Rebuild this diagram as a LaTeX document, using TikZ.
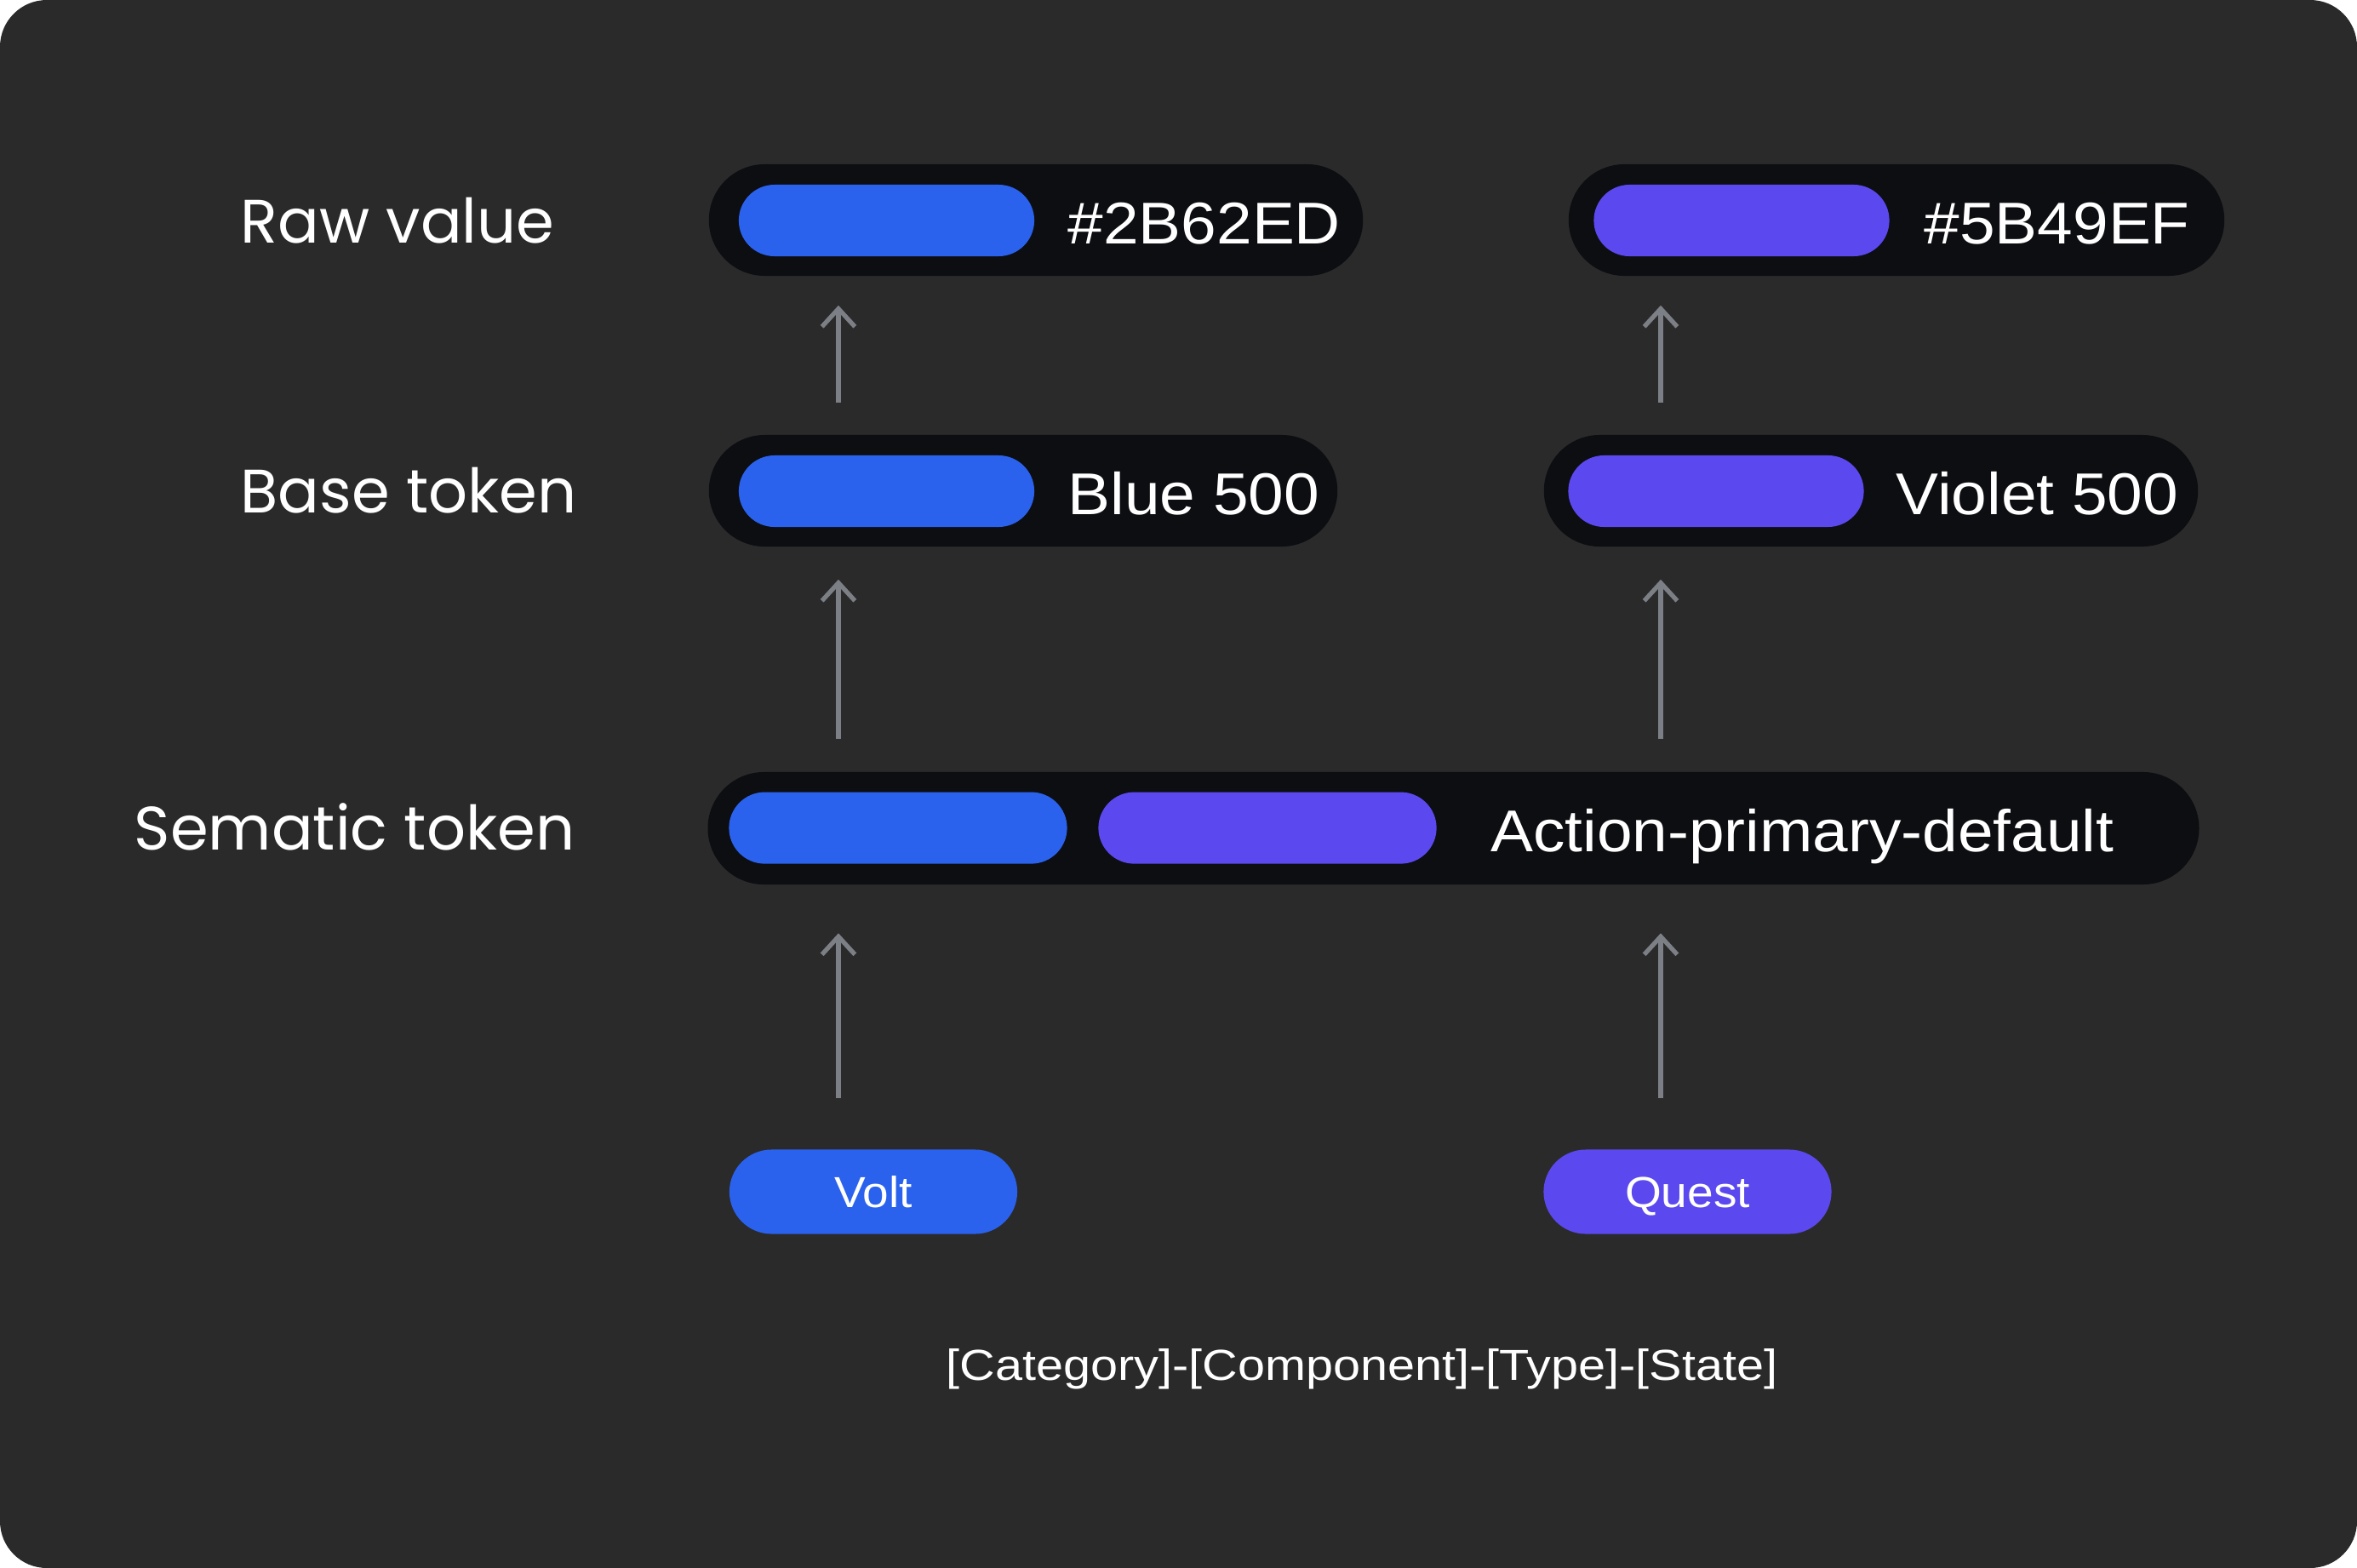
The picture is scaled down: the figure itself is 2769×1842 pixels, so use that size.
\documentclass[tikz,border=0pt]{standalone}
\usepackage{fontspec}
\setmainfont{Poppins}
\newfontfamily\pillfont[FakeStretch=1.08]{Liberation Sans}
\newfontfamily\schemefont[FakeStretch=1.13]{Liberation Sans}
\usetikzlibrary{arrows.meta}
\definecolor{canvas}{HTML}{2A2A2A}
\definecolor{pilldark}{HTML}{0D0E12}
\definecolor{tokblue}{HTML}{2B62ED}
\definecolor{tokviolet}{HTML}{5B49EF}
\definecolor{arrowgray}{HTML}{7C7F85}

\begin{document}
\begin{tikzpicture}[x=0.01cm,y=-0.01cm,
  level/.style={font=\fontsize{20.5}{24}\selectfont,text=white,inner sep=0,anchor=base west},
  slot/.style={fill=pilldark,minimum height=1.31cm,rounded corners=0.655cm,inner sep=0},
  swatch/.style={fill=#1,minimum width=3.47cm,minimum height=0.84cm,rounded corners=0.42cm,inner sep=0},
  value/.style={font=\pillfont\fontsize{19.7}{23}\selectfont,text=white,inner sep=0,anchor=base west},
  brand/.style={fill=#1,minimum width=3.38cm,minimum height=0.99cm,rounded corners=0.495cm,
    inner sep=0,text height=10.4pt,text depth=0pt,text=white,font=\pillfont\fontsize{14.5}{17}\selectfont},
  flow/.style={draw=arrowgray,line width=1.5pt,-{Straight Barb[length=6pt,width=11pt]}}]
\useasboundingbox (0,0) rectangle (2769,1842);
\fill[white] (0,0) rectangle (2769,1842);
\fill[canvas,rounded corners=0.55cm] (0,0) rectangle (2769,1842);

% level labels
\node[level] (lraw) at (282,285) {Raw value};
\node[level] (lbase) at (282,602) {Base token};
\node[level,anchor=base east] (lsem) at (676,998) {Sematic token};

% raw values
\node[slot,minimum width=7.68cm] (rawB) at (1217,258.5) {};
\node[swatch=tokblue] (rawBsw) at (1041.5,259) {};
\node[value] (rawBtx) at (1254,286) {\#2B62ED};
\node[slot,minimum width=7.70cm] (rawV) at (2228,258.5) {};
\node[swatch=tokviolet] (rawVsw) at (2046,259) {};
\node[value] (rawVtx) at (2260,286) {\#5B49EF};

% base tokens
\node[slot,minimum width=7.38cm] (baseB) at (1202,576.5) {};
\node[swatch=tokblue] (baseBsw) at (1041.5,577) {};
\node[value] (baseBtx) at (1254,604) {Blue 500};
\node[slot,minimum width=7.68cm] (baseV) at (2198,576.5) {};
\node[swatch=tokviolet] (baseVsw) at (2016,577) {};
\node[value] (baseVtx) at (2227,604) {Violet 500};

% semantic token
\node[slot,minimum width=17.51cm,minimum height=1.32cm,rounded corners=0.66cm] (sem) at (1707.5,973) {};
\node[swatch=tokblue,minimum width=3.97cm] (semBsw) at (1055,972.6) {};
\node[swatch=tokviolet,minimum width=3.97cm] (semVsw) at (1489,972.6) {};
\node[value] (semtx) at (1750.6,1000) {Action-primary-default};

% brands
\node[brand=tokblue] (volt) at (1026,1400) {Volt};
\node[brand=tokviolet] (quest) at (1982.5,1400) {Quest};

\node[font=\schemefont\fontsize{14.5}{17}\selectfont,text=white,anchor=base,inner sep=0]
  (scheme) at (1600,1621) {[Category]-[Component]-[Type]-[State]};

% arrows
\coordinate (colB) at (985,0);
\coordinate (colV) at (1951,0);
\draw[flow,shorten <=0.37cm,shorten >=0.34cm] (baseB.north -| colB) -- (rawB.south -| colB);
\draw[flow,shorten <=0.37cm,shorten >=0.34cm] (baseV.north -| colV) -- (rawV.south -| colV);
\draw[flow,shorten <=0.38cm,shorten >=0.38cm] (sem.north -| colB) -- (baseB.south -| colB);
\draw[flow,shorten <=0.38cm,shorten >=0.38cm] (sem.north -| colV) -- (baseV.south -| colV);
\draw[flow,shorten <=0.60cm,shorten >=0.565cm] (volt.north -| colB) -- (sem.south -| colB);
\draw[flow,shorten <=0.60cm,shorten >=0.565cm] (quest.north -| colV) -- (sem.south -| colV);
\end{tikzpicture}
\end{document}
